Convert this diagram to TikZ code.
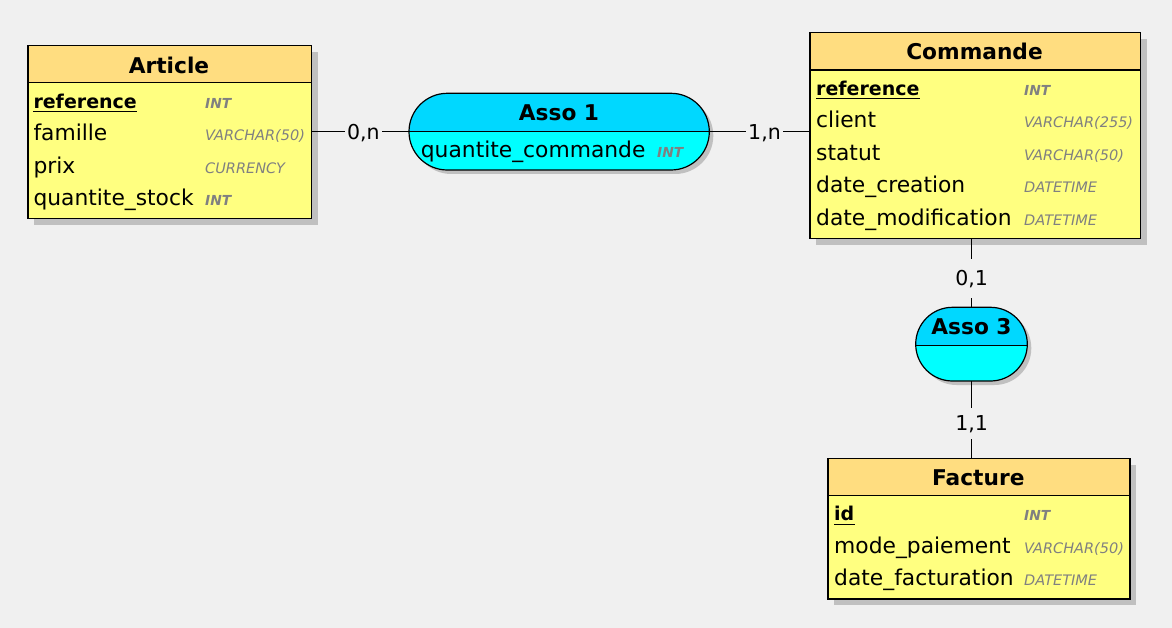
\documentclass[tikz,border=0pt]{standalone}
\usepackage{fontspec}
\setmainfont{DejaVu Sans}
\definecolor{bgc}{HTML}{F0F0F0}
\definecolor{headc}{HTML}{FFDD80}
\definecolor{bodyc}{HTML}{FFFF80}
\definecolor{shadowc}{HTML}{C0C0C0}
\definecolor{asstop}{HTML}{00D8FF}
\definecolor{assbot}{HTML}{00FFFF}
\definecolor{typec}{HTML}{808080}
\tikzset{
  fld/.style={inner sep=0, anchor=base west, font=\fontsize{21.8}{26}\selectfont},
  kfld/.style={inner sep=0, anchor=base west, font=\fontsize{19}{23}\selectfont\bfseries},
  typ/.style={inner sep=0, anchor=base west, text=typec, font=\fontsize{14.5}{17}\selectfont\itshape},
  ktyp/.style={inner sep=0, anchor=base west, text=typec, font=\fontsize{13.8}{17}\selectfont\bfseries\itshape},
  ttl/.style={inner sep=0, anchor=base, font=\fontsize{21.7}{26}\selectfont\bfseries},
  card/.style={fill=bgc, inner xsep=2, inner ysep=9, text height=15, text depth=0, font=\fontsize{20.5}{24}\selectfont},
  frame/.style={line width=1.2},
  conn/.style={line width=1.1},
  ulin/.style={line width=1.3},
}
% name, x1, y1, x2, y2, header bottom
\newcommand\entbox[6]{%
  \fill[shadowc] (#2+7,#3+7) rectangle (#4+7,#5+7);
  \fill[bodyc] (#2,#3) rectangle (#4,#5);
  \fill[headc] (#2,#3) rectangle (#4,#6);
  \draw[frame] (#2,#6) -- (#4,#6);
  \node[draw, frame, inner sep=0, anchor=north west, minimum width=#4-#2, minimum height=#5-#3] (#1) at (#2,#3) {};
}
% name, x1, y1, x2, y2, mid line, radius
\newcommand\assobox[7]{%
  \fill[shadowc, rounded corners=#7] (#2+4,#3+4) rectangle (#4+4,#5+4);
  \begin{scope}
    \clip[rounded corners=#7] (#2,#3) rectangle (#4,#5);
    \fill[asstop] (#2,#3) rectangle (#4,#6);
    \fill[assbot] (#2,#6) rectangle (#4,#5);
  \end{scope}
  \draw[frame] (#2,#6) -- (#4,#6);
  \draw[frame, rounded corners=#7] (#2,#3) rectangle (#4,#5);
  \node[inner sep=0, anchor=north west, minimum width=#4-#2, minimum height=#5-#3] (#1) at (#2,#3) {};
}
\begin{document}
\begin{tikzpicture}[x=1pt, y=-1pt]
\useasboundingbox (0,0) rectangle (1172,628);
\fill[bgc] (0,0) rectangle (1172,628);

% Article
\entbox{article}{27.3}{45}{310.7}{218.3}{82.7}
\node[ttl] (articleT) at (169,73.3) {Article};
\node[kfld] (artref) at (33.3,108.3) {reference};
\draw[ulin] ([yshift=-3.5]artref.base west) -- ([yshift=-3.5]artref.base east);
\node[fld] (artfam) at (33.3,140.7) {famille};
\node[fld] (artprix) at (33.3,173.2) {prix};
\node[fld] (artqs) at (33.3,205.7) {quantite\_stock};
\node[ktyp] (artrefT) at (205,108.3) {INT};
\node[typ] (artfamT) at (205,140.7) {VARCHAR(50)};
\node[typ] (artprixT) at (205,173.2) {CURRENCY};
\node[ktyp] (artqsT) at (205,205.7) {INT};

% Commande
\entbox{commande}{809.3}{32.3}{1139.7}{238.3}{70}
\node[ttl] (commandeT) at (974.5,60) {Commande};
\node[kfld] (comref) at (816,95.3) {reference};
\draw[ulin] ([yshift=-3.5]comref.base west) -- ([yshift=-3.5]comref.base east);
\node[fld] (comcli) at (816,128) {client};
\node[fld] (comstat) at (816,160.5) {statut};
\node[fld] (comdc) at (816,193) {date\_creation};
\node[fld] (comdm) at (816,225.5) {date\_modification};
\node[ktyp] (comrefT) at (1024,95.3) {INT};
\node[typ] (comcliT) at (1024,128) {VARCHAR(255)};
\node[typ] (comstatT) at (1024,160.5) {VARCHAR(50)};
\node[typ] (comdcT) at (1024,193) {DATETIME};
\node[typ] (comdmT) at (1024,225.5) {DATETIME};

% Facture
\entbox{facture}{827.3}{457.7}{1129.3}{598.3}{495.7}
\node[ttl] (factureT) at (978.3,485.7) {Facture};
\node[kfld] (facid) at (834,520.7) {id};
\draw[ulin] ([yshift=-3.5]facid.base west) -- ([yshift=-3.5]facid.base east);
\node[fld] (facmp) at (834,553.2) {mode\_paiement};
\node[fld] (facdf) at (834,585.7) {date\_facturation};
\node[ktyp] (facidT) at (1024,520.7) {INT};
\node[typ] (facmpT) at (1024,553.2) {VARCHAR(50)};
\node[typ] (facdfT) at (1024,585.7) {DATETIME};

% Asso 1
\assobox{asso1}{409}{93.3}{709.3}{170}{131.7}{38.3}
\node[ttl] (asso1T) at (559,121) {Asso 1};
\node[fld] (a1qc) at (420.7,157.7) {quantite\_commande};
\node[ktyp] (a1qcT) at (657,157.7) {INT};

% Asso 3
\assobox{asso3}{915.7}{307.3}{1027.3}{381}{345.7}{36.8}
\node[ttl] (asso3T) at (971.5,334) {Asso 3};

% connectors
\draw[conn] (asso1.west -| article.east) -- (asso1.west) node[card, pos=0.53] (c1) {0,n};
\draw[conn] (asso1.east) -- (asso1.east -| commande.west) node[card, pos=0.55] (c2) {1,n};
\draw[conn] (asso3.north |- commande.south) -- (asso3.north) node[card, pos=0.57, inner ysep=12] (c3) {0,1};
\draw[conn] (asso3.south) -- (asso3.south |- facture.north) node[card, pos=0.55, inner ysep=8] (c4) {1,1};
\end{tikzpicture}
\end{document}
